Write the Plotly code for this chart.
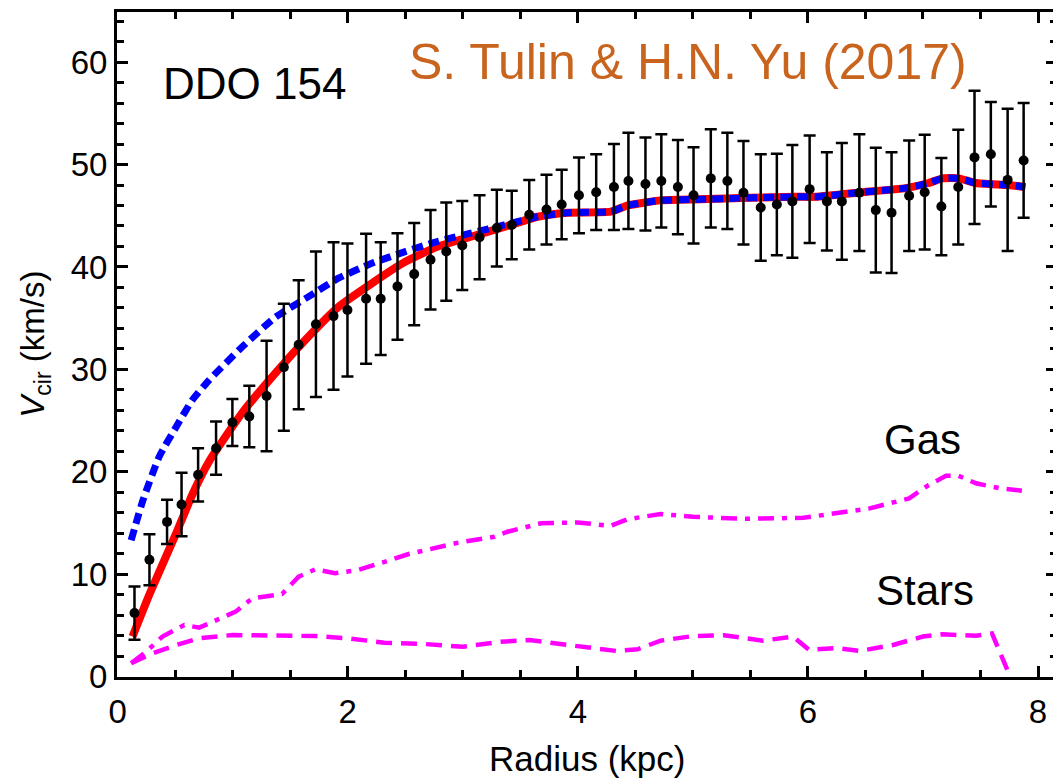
import plotly.graph_objects as go

# ---- observed rotation curve (DDO 154) ----
radius = [0.147, 0.277, 0.43, 0.556, 0.70, 0.856, 0.998, 1.145, 1.295, 1.445,
          1.574, 1.724, 1.877, 1.998, 2.16, 2.287, 2.433, 2.578, 2.72, 2.857,
          2.996, 3.146, 3.296, 3.426, 3.578, 3.728, 3.86, 4.01, 4.16, 4.314,
          4.44, 4.588, 4.726, 4.87, 5.006, 5.156, 5.30, 5.44, 5.59, 5.73,
          5.865, 6.015, 6.165, 6.295, 6.447, 6.59, 6.727, 6.88, 7.015, 7.16,
          7.307, 7.448, 7.59, 7.736, 7.875]
v_obs = [6.2, 11.4, 15.1, 16.8, 19.7, 22.3, 24.8, 25.4, 27.4, 30.2,
         32.4, 34.4, 35.2, 35.8, 36.9, 36.9, 38.1, 39.3, 40.7, 41.5,
         42.1, 42.9, 43.8, 44.1, 45.1, 45.6, 46.1, 47.0, 47.3, 47.8,
         48.4, 48.1, 48.4, 47.8, 47.0, 48.65, 48.4, 47.25, 45.8, 46.1,
         46.4, 47.6, 46.4, 46.4, 47.25, 45.55, 45.3, 46.95, 47.3, 45.9,
         47.8, 50.7, 51.0, 48.5, 50.4]
v_err = [2.6, 2.5, 2.15, 3.1, 2.6, 2.6, 2.3, 3.0, 5.4, 6.2,
         6.3, 7.1, 7.2, 6.5, 6.35, 5.5, 5.2, 5.0, 4.85, 4.8,
         4.35, 4.1, 3.75, 3.35, 3.4, 3.4, 3.4, 3.7, 3.7, 4.2,
         4.7, 4.55, 4.55, 4.6, 4.7, 4.8, 4.7, 5.05, 5.2, 4.95,
         5.5, 5.25, 4.8, 5.7, 5.7, 6.1, 5.9, 5.4, 5.6, 4.75,
         5.6, 6.5, 5.1, 6.95, 5.6]

# ---- model curves ----
red_r = [0.13, 0.28, 0.51, 0.655, 0.80, 1.08, 1.37, 1.66, 1.92, 2.21, 2.5,
         2.785, 3.07, 3.36, 3.65, 3.91, 4.285, 4.43, 4.72, 5.06, 5.5, 5.9,
         6.07, 6.48, 6.85, 7.05, 7.17, 7.31, 7.46, 7.745, 7.89]
red_v = [3.9, 8.1, 14.0, 17.9, 21.1, 25.7, 29.6, 33.2, 36.1, 38.4, 40.5,
         42.0, 42.95, 43.9, 44.9, 45.3, 45.4, 46.0, 46.5, 46.6, 46.75, 46.85,
         46.85, 47.3, 47.7, 48.2, 48.65, 48.65, 48.2, 48.0, 47.8]

blue_r = [0.118, 0.22, 0.363, 0.51, 0.65, 0.796, 1.084, 1.373, 1.66, 1.92,
          2.21, 2.5, 2.785, 3.07, 3.36, 3.65, 3.91, 4.285, 4.43, 4.72, 5.06,
          5.5, 5.9, 6.07, 6.48, 6.85, 7.05, 7.17, 7.31, 7.46, 7.745, 7.89]
blue_v = [13.3, 17.2, 21.5, 24.4, 27.0, 28.95, 32.2, 35.1, 37.1, 38.9,
          40.35, 41.5, 42.5, 43.3, 44.1, 44.9, 45.3, 45.4, 46.0, 46.5, 46.6,
          46.75, 46.85, 46.85, 47.3, 47.7, 48.2, 48.65, 48.65, 48.2, 48.0, 47.8]

gas_r = [0.118, 0.248, 0.39, 0.58, 0.71, 0.854, 1.027, 1.17, 1.43, 1.574,
         1.72, 1.89, 2.09, 2.32, 2.53, 2.96, 3.275, 3.39, 3.68, 4.0, 4.28,
         4.43, 4.72, 5.0, 5.44, 5.96, 6.25, 6.53, 6.88, 7.05, 7.2, 7.31,
         7.46, 7.66, 7.86]
gas_v = [1.29, 2.42, 3.9, 5.03, 4.77, 5.5, 6.33, 7.63, 8.06, 9.75,
         10.47, 10.08, 10.4, 11.2, 11.96, 13.07, 13.65, 14.14, 14.96, 15.05, 14.7,
         15.35, 15.87, 15.6, 15.4, 15.5, 16.0, 16.4, 17.4, 18.7, 19.6, 19.6,
         18.87, 18.4, 18.15]

stars_r = [0.118, 0.305, 0.51, 0.71, 1.0, 1.37, 1.72, 2.0, 2.32, 2.67, 3.0,
           3.33, 3.58, 3.97, 4.34, 4.52, 4.72, 5.0, 5.27, 5.61, 5.87, 6.01,
           6.25, 6.45, 6.74, 7.0, 7.17, 7.46, 7.6, 7.78]
stars_v = [1.29, 2.27, 3.08, 3.73, 4.05, 3.95, 3.95, 3.73, 3.3, 3.17, 2.9,
           3.4, 3.56, 3.0, 2.49, 2.66, 3.5, 3.95, 4.02, 3.5, 3.9, 2.6,
           2.78, 2.49, 3.08, 3.9, 4.12, 3.98, 4.2, -0.6]

x_ticks = [0, 2, 4, 6, 8]
y_ticks = [0, 10, 20, 30, 40, 50, 60]

FONT = "Liberation Sans, Arial, Helvetica, sans-serif"
MAGENTA = "#FF00FF"

fig = go.Figure()

fig.add_trace(go.Scatter(x=gas_r, y=gas_v, mode="lines",
                         line=dict(color=MAGENTA, width=4.5, dash="16px,8px,5px,8px"),
                         showlegend=False, hoverinfo="skip"))
fig.add_trace(go.Scatter(x=stars_r, y=stars_v, mode="lines",
                         line=dict(color=MAGENTA, width=4.5, dash="16px,9px"),
                         showlegend=False, hoverinfo="skip"))
fig.add_trace(go.Scatter(x=red_r, y=red_v, mode="lines",
                         line=dict(color="#FF0000", width=8, shape="spline", smoothing=0.5),
                         showlegend=False, hoverinfo="skip"))
fig.add_trace(go.Scatter(x=blue_r, y=blue_v, mode="lines",
                         line=dict(color="#0000FF", width=7, dash="11px,6px",
                                   shape="spline", smoothing=0.5),
                         showlegend=False, hoverinfo="skip"))
fig.add_trace(go.Scatter(x=radius, y=v_obs, mode="markers",
                         marker=dict(color="black", size=10),
                         error_y=dict(type="data", array=v_err, visible=True,
                                      color="black", thickness=2.5, width=6),
                         showlegend=False))

annos = [
    dict(x=1.19, y=57.9, text="DDO 154", font=dict(size=44, color="black")),
    dict(x=4.96, y=60.0, text="S. Tulin &amp; H.N. Yu (2017)",
         font=dict(size=50, color="#C8641E")),
    dict(x=7.0, y=23.1, text="Gas", font=dict(size=42, color="black")),
    dict(x=7.02, y=8.4, text="Stars", font=dict(size=42, color="black")),
]
for a in annos:
    fig.add_annotation(xref="x", yref="y", showarrow=False,
                       xanchor="center", yanchor="middle", **a)

fig.add_annotation(xref="paper", yref="paper", x=-0.088, y=0.5,
                   text="<i>V</i><sub>cir</sub> (km/s)", textangle=-90,
                   showarrow=False, xanchor="center", yanchor="middle",
                   font=dict(size=33, color="black"))
fig.add_annotation(xref="paper", yref="paper", x=0.5, y=-0.123,
                   text="Radius (kpc)", showarrow=False,
                   xanchor="center", yanchor="middle",
                   font=dict(size=35, color="black"))

fig.update_xaxes(range=[-0.005, 8.165], tickvals=x_ticks, ticks="inside",
                 ticklen=11, tickwidth=2.5, tickcolor="black",
                 minor=dict(dtick=0.5, ticks="inside", ticklen=7, tickwidth=2.5,
                            tickcolor="black", showgrid=False),
                 showline=True, linewidth=3, linecolor="black", mirror="ticks",
                 showgrid=False, zeroline=False, ticklabelstandoff=3,
                 tickfont=dict(size=33, color="black", family=FONT))
fig.update_yaxes(range=[-0.05, 64.9], tickvals=y_ticks, ticks="inside",
                 ticklen=11, tickwidth=2.5, tickcolor="black",
                 minor=dict(dtick=2, ticks="inside", ticklen=7, tickwidth=2.5,
                            tickcolor="black", showgrid=False),
                 showline=True, linewidth=3, linecolor="black", mirror="ticks",
                 showgrid=False, zeroline=False,
                 tickfont=dict(size=33, color="black", family=FONT))

# the page body has an 8px default margin, so the figure is sized to fit inside it
fig.update_layout(width=1053, height=775,
                  margin=dict(l=109, r=1, t=4, b=106, pad=0),
                  plot_bgcolor="white", paper_bgcolor="white",
                  font=dict(family=FONT, color="black"),
                  showlegend=False)

fig.write_html("out.html")
